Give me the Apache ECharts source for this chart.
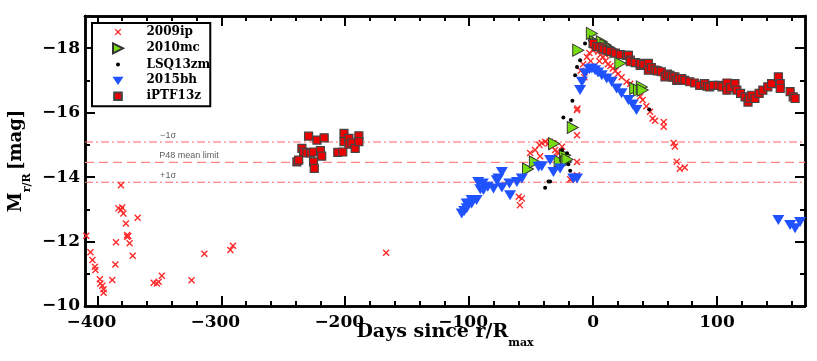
<!DOCTYPE html>
<html>
<head>
<meta charset="utf-8">
<script src="https://cdn.jsdelivr.net/npm/echarts@6.0.0/dist/echarts.min.js"></script>
<style>
  html, body { margin: 0; padding: 0; background: #fff; }
  #chart { width: 817px; height: 361px; }
</style>
</head>
<body>
<div id="chart"></div>
<script>
  // [days since r/R max, absolute magnitude]
  var sn2009ip = [
    [-409,-12.18],[-405.6,-11.67],[-404,-11.43],[-402,-11.22],[-401.6,-11.12],[-398,-10.83],[-397.6,-10.7],
    [-396,-10.63],[-395,-10.52],[-395,-10.41],[-388,-10.81],[-385.5,-11.29],[-385,-11.98],[-383,-13.03],
    [-381,-13.75],[-381,-12.98],[-380,-13.06],[-379,-12.87],[-377,-12.56],[-376,-12.2],[-375,-12.17],
    [-376,-12.15],[-374,-11.95],[-371.5,-11.56],[-367.5,-12.74],[-354.6,-10.72],[-352,-10.7],[-350.6,-10.75],
    [-348,-10.94],[-324,-10.8],[-313.7,-11.62],[-292.7,-11.74],[-290.6,-11.87],[-167,-11.65],
    [-60,-13.39],[-57.5,-13.34],[-59,-13.13],[-50.8,-14.75],[-46.8,-14.84],[-43.3,-15.0],[-41.4,-15.06],
    [-38.7,-15.1],[-36,-15.04],[-33.3,-14.94],[-30.6,-14.84],[-28,-14.73],[-42.7,-14.65],[-35,-15.1],
    [-32,-15.05],[-29,-14.78],[-25,-14.94],[-13,-14.47],[-13,-14.06],[-17,-13.96],[-18.5,-13.93],
    [-13,-15.3],[-12.6,-16.13],
    [-13,-16.08],[-7,-17.1],[-8,-17.5],[-5,-17.73],[-3,-17.85],[0,-17.94],[2,-17.98],[4,-17.89],[6,-17.8],
    [8,-17.73],[10,-17.6],[12,-17.5],[14,-17.45],[16,-17.37],[18,-17.3],[20,-17.2],[23,-17.1],[27,-16.96],
    [30,-16.9],[33,-16.75],[35,-16.65],[38,-16.5],[40,-16.39],[43,-16.2],[46,-16.03],[48,-15.82],[50,-15.75],
    [57,-15.71],[57,-15.56],[65,-15.06],[66,-14.95],[67.5,-14.48],[70,-14.26],[74,-14.3],
    [-10,-17.3],[-2,-17.6],[5,-17.6],[10,-17.8]
  ];
  var sn2010mc = [
    [-52.5,-14.25],[-47,-14.47],[-31.5,-15.04],[-27,-14.49],[-22.6,-14.68],[-21.8,-14.47],[-20.7,-14.55],
    [-16.4,-15.54],[-12,-17.94],[-1,-18.46],[1.6,-18.2],[4,-18.15],[7,-18.2],[10,-18.1],[14,-17.99],
    [18,-17.89],[22,-17.53],[34,-16.75],[37,-16.7],[39.3,-16.8],[40,-16.7]
  ];
  var lsq13zm = [
    [-38.7,-13.67],[-36,-13.86],[-34.7,-13.86],[-25,-14.84],[-21,-14.74],[-20,-14.4],[-18.5,-14.2],
    [-24,-15.85],[-18,-15.77],[-16.7,-16.37],[-14.5,-17.16],[-13,-17.42],[-10.5,-17.63],[-6.5,-18.15],
    [-2.4,-18.25],[45.4,-16.1]
  ];
  var sn2015bh = [
    [-106,-12.87],[-104,-12.95],[-102,-13.03],[-102,-13.18],[-98,-13.18],[-98,-13.29],[-94,-13.29],
    [-92.7,-13.85],[-91,-13.62],[-89,-13.8],[-88.5,-13.6],[-85,-13.7],[-80.4,-13.65],[-77.7,-13.9],
    [-76.4,-13.96],[-73.6,-14.16],[-73.6,-13.68],[-67.5,-13.8],[-67,-13.44],[-61.5,-13.85],[-57.5,-13.96],
    [-44,-14.32],[-41.4,-14.34],[-34.7,-14.53],[-32,-14.16],[-26.6,-14.27],[-16,-13.96],[-13,-13.96],
    [-10.5,-16.7],[-9,-16.96],[-6.5,-17.22],[-3,-17.35],[-1,-17.37],[1.6,-17.32],[4,-17.25],[7,-17.16],
    [11,-17.06],[15,-16.96],[19,-16.75],[23,-16.6],[28.5,-16.39],[32,-16.25],[35,-16.08],
    [149.5,-12.67],[159,-12.51],[163,-12.41],[167,-12.61]
  ];
  var iptf13z = [
    [-239,-14.47],[-237.6,-14.53],[-235,-14.89],[-233.6,-14.78],[-231,-14.75],[-229.6,-15.27],[-228,-14.75],
    [-225.6,-14.78],[-225.6,-14.47],[-225,-14.27],[-222.8,-15.15],[-220,-14.82],[-219,-14.65],[-217,-15.22],
    [-206,-14.77],[-202,-14.78],[-201,-15.36],[-201,-15.1],[-197,-15.2],[-197,-15.02],[-194.6,-15.06],
    [-192,-14.89],[-189,-15.28],[-189,-15.1],
    [0,-18.15],[3,-18.05],[5.6,-18.04],[8,-17.98],[11,-17.94],[14,-17.9],[18,-17.85],[22,-17.8],[27,-17.78],
    [28.5,-17.78],[30,-17.63],[30,-17.58],[34,-17.55],[38,-17.47],[38,-17.53],[41,-17.5],[44.6,-17.53],
    [44.6,-17.32],[47,-17.4],[50,-17.32],[52,-17.3],[55,-17.27],[58,-17.11],[60,-17.2],[62,-17.16],
    [64,-17.1],[66,-17.11],[67.5,-17.0],[69,-17.05],[71.5,-17.06],[74,-17.0],[78,-16.96],[82,-16.92],
    [86,-16.85],[90,-16.9],[92,-16.82],[94,-16.8],[97,-16.85],[101,-16.85],[104,-16.8],[108,-16.92],
    [108,-16.7],[111,-16.78],[114.5,-16.9],[116,-16.7],[119,-16.6],[122.6,-16.49],[125,-16.33],[126,-16.45],
    [128,-16.54],[130.6,-16.44],[134,-16.6],[137,-16.7],[141,-16.8],[144,-16.9],[149.5,-17.11],[151,-16.9],
    [151,-16.75],[159,-16.65],[161.5,-16.49],[163,-16.44]
  ];

  // P48 limit lines (-1 sigma, mean, +1 sigma) and their labels
  var refLevels = [-15.09, -14.46, -13.84];
  var refLabels = ['\u22121\u03c3', 'P48 mean limit', '+1\u03c3'];
  var refLabelDays = [-343, -326, -343];

  var xMin = -410, xMax = 171;
  var xMajor = [-400, -300, -200, -100, 0, 100];
  var xMinor = [];
  for (var d = -400; d <= 160; d += 20) { if (d % 100 !== 0) xMinor.push(d); }
  var yMajor = [-18, -16, -14, -12];
  var yMinor = [-19, -17, -15, -13, -11];
  var yLabels = [-18, -16, -14, -12, -10];

  var crossPath = 'M0,1.4L1.4,0L5,3.6L8.6,0L10,1.4L6.4,5L10,8.6L8.6,10L5,6.4L1.4,10L0,8.6L3.6,5Z';
  var triRight = 'M0,0L10,5L0,10Z';
  var triDown = 'M0,0L12,0L6,9Z';
  // invisible corner points that pad a legend icon inside its box
  function pad(a, b) { return 'M' + a + ',' + a + 'L' + a + ',' + a + 'M' + b + ',' + b + 'L' + b + ',' + b; }

  var serif = 'DejaVu Serif';
  var black = '#000';
  var minus = function (v) { return String(v).replace('-', '\u2212'); };
  var xFmt = function (v) { return v < 0 ? '{n|' + minus(v) + '}' : String(v); };

  function xAxisOf(pos, values, len, labels) {
    return {
      type: 'value', min: xMin, max: xMax, position: pos,
      axisLine: { show: true, onZero: false, lineStyle: { color: black, width: 2.5 } },
      axisTick: { show: true, inside: true, length: len, customValues: values, lineStyle: { color: black, width: 2 } },
      axisLabel: labels ? { show: true, customValues: values, margin: 8, color: black,
        fontFamily: serif, fontWeight: 'bold', fontSize: 17, formatter: xFmt,
        rich: { n: { fontFamily: serif, fontWeight: 'bold', fontSize: 17, color: black, padding: [0, 12, 0, 0] } }
      } : { show: false },
      splitLine: { show: false }
    };
  }
  function yAxisOf(pos, values, len, labels) {
    return {
      type: 'value', min: -19, max: -10, inverse: true, position: pos,
      axisLine: { show: true, onZero: false, lineStyle: { color: black, width: 2.5 } },
      axisTick: { show: true, inside: true, length: len, customValues: values, lineStyle: { color: black, width: 2 } },
      axisLabel: labels ? { show: true, customValues: yLabels, margin: 5, color: black,
        fontFamily: serif, fontWeight: 'bold', fontSize: 17, formatter: minus } : { show: false },
      splitLine: { show: false }
    };
  }

  var xAxes = [xAxisOf('bottom', xMajor, 10, true), xAxisOf('bottom', xMinor, 5, false),
               xAxisOf('top', xMajor, 10, false), xAxisOf('top', xMinor, 5, false)];
  xAxes[0].name = '{m|Days since r/R}{s|max}';
  xAxes[0].nameLocation = 'middle';
  xAxes[0].nameGap = 17;
  xAxes[0].nameMoveOverlap = false;
  xAxes[0].nameTextStyle = {
    rich: {
      m: { fontFamily: serif, fontWeight: 'bold', fontSize: 19, color: black, lineHeight: 26, verticalAlign: 'top' },
      s: { fontFamily: serif, fontWeight: 'bold', fontSize: 11, color: black, lineHeight: 14, verticalAlign: 'bottom' }
    }
  };

  var yAxes = [yAxisOf('left', yMajor, 10, true), yAxisOf('left', yMinor, 5, false),
               yAxisOf('right', yMajor, 10, false), yAxisOf('right', yMinor, 5, false)];
  yAxes[0].name = '{m|M}{s|r/R} {m|[mag]}';
  yAxes[0].nameLocation = 'middle';
  yAxes[0].nameRotate = 90;
  yAxes[0].nameGap = 52;
  yAxes[0].nameMoveOverlap = false;
  yAxes[0].nameTextStyle = {
    rich: {
      m: { fontFamily: serif, fontWeight: 'bold', fontSize: 18, color: black, lineHeight: 26, verticalAlign: 'top' },
      s: { fontFamily: serif, fontWeight: 'bold', fontSize: 11, color: black, lineHeight: 12, verticalAlign: 'bottom' }
    }
  };

  var annot = refLevels.map(function (lv, i) { return [refLabelDays[i], lv, refLabels[i]]; });
  var refStyles = [
    { color: '#ff6464', width: 1.2, type: [8, 3, 2, 3] },
    { color: '#ff8585', width: 1.3, type: [9, 5] },
    { color: '#ff6464', width: 1.2, type: [8, 3, 2, 3] }
  ];
  var refSeries = refLevels.map(function (lv, i) {
    return {
      name: 'ref' + i, type: 'line', data: [[xMin, lv], [xMax, lv]],
      symbol: 'none', silent: true, lineStyle: refStyles[i], z: 1
    };
  });

  var option = {
    animation: false,
    backgroundColor: '#fff',
    grid: { left: 85, right: 12, top: 16, bottom: 55, containLabel: false, outerBoundsMode: 'none' },
    xAxis: xAxes,
    yAxis: yAxes,
    legend: {
      left: 92, top: 23, orient: 'vertical',
      padding: [3, 0, 3, 19],
      itemWidth: 25, itemHeight: 12, itemGap: 3.3,
      borderColor: black, borderWidth: 2, borderRadius: 0,
      backgroundColor: '#fff',
      textStyle: { fontFamily: serif, fontWeight: 'bold', fontSize: 12, color: black, padding: [0, 0, 0, 11] },
      data: [
        { name: '2009ip', icon: 'path://' + pad(-4, 14) + crossPath },
        { name: '2010mc', icon: 'path://' + pad(-1, 11) + triRight },
        { name: 'LSQ13zm', icon: 'path://' + pad(-6, 6) + 'M-2,0A2,2,0,1,1,2,0A2,2,0,1,1,-2,0Z' },
        { name: '2015bh', icon: 'path://M0,-3L0,-3M12,10L12,10' + triDown },
        { name: 'iPTF13z', icon: 'path://' + pad(-2, 9) + 'M0,0L7,0L7,7L0,7Z' }
      ]
    },
    series: refSeries.concat([
      {
        name: 'limits', type: 'scatter', data: annot, symbolSize: 0, silent: true,
        label: {
          show: true, position: 'top', distance: 2,
          formatter: function (p) { return p.data[2]; },
          fontFamily: 'Liberation Sans', fontSize: 9, color: '#333'
        }
      },
      {
        name: '2009ip', type: 'scatter', data: sn2009ip,
        symbol: 'path://' + crossPath, symbolSize: 7,
        itemStyle: { color: '#ff2a2a', opacity: 1 }
      },
      {
        name: '2010mc', type: 'scatter', data: sn2010mc,
        symbol: 'path://' + triRight, symbolSize: [11, 12],
        itemStyle: { color: '#77dd11', borderColor: '#333', borderWidth: 1, opacity: 1 }
      },
      {
        name: 'LSQ13zm', type: 'scatter', data: lsq13zm,
        symbol: 'circle', symbolSize: 4,
        itemStyle: { color: '#000', opacity: 1 }
      },
      {
        name: '2015bh', type: 'scatter', data: sn2015bh,
        symbol: 'path://' + triDown, symbolSize: [12, 10],
        itemStyle: { color: '#2052ff', opacity: 1 }
      },
      {
        name: 'iPTF13z', type: 'scatter', data: iptf13z,
        symbol: 'rect', symbolSize: 8,
        itemStyle: { color: '#ee0000', borderColor: '#444', borderWidth: 1.2, opacity: 1 }
      }
    ])
  };

  var myChart = echarts.init(document.getElementById('chart'), null, { renderer: 'canvas' });
  myChart.setOption(option);
  window.addEventListener('resize', function () { myChart.resize(); });
</script>
</body>
</html>
